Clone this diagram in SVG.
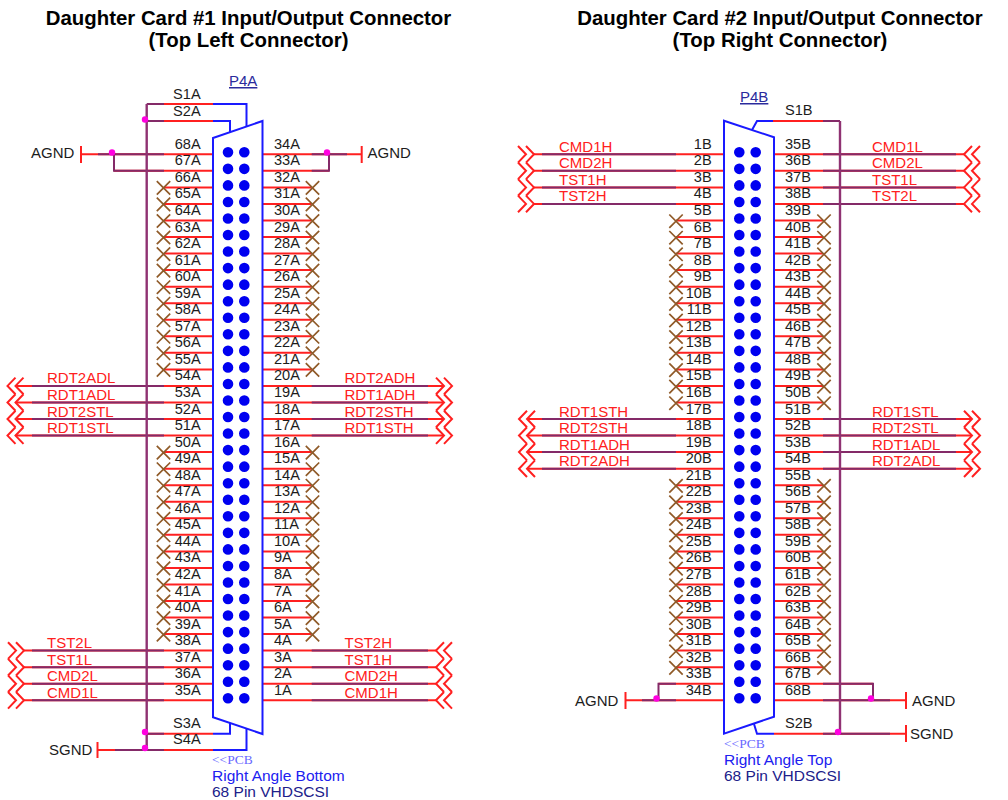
<svg xmlns="http://www.w3.org/2000/svg" width="1008" height="800" viewBox="0 0 1008 800">
<style>
text{font-family:"Liberation Sans",Arial,sans-serif;font-size:14.6px;fill:#1c1c1c}
#nets text{font-size:15px}
.t{font-weight:bold;font-size:20.4px;fill:#000;text-anchor:middle}
.e{text-anchor:end}
#nets .n{fill:#ff2020}
.r{fill:none;stroke:#ff2020;stroke-width:2}
.p{fill:none;stroke:#842a68;stroke-width:2}
.bus{fill:none;stroke:#8f3272;stroke-width:2.4}
.b{fill:none;stroke:#1a1aff;stroke-width:2}
.x{fill:none;stroke:#8f5a28;stroke-width:1.7}
.d{fill:none;stroke:#0000f0;stroke-width:10.6;stroke-linecap:round;stroke-dasharray:0 16.545}
.j{fill:#ff00e0}
.ref{fill:#2a2a9c;text-decoration:underline;font-size:15px}
.pcb{font-family:"Liberation Serif",serif;fill:#6a6aff;font-size:13.5px}
.ra{fill:#2020f0;font-size:15.5px}
.hd{fill:#20208a;font-size:15.5px}
</style>
<defs>
<path id="nc" class="x" d="M-6.7-6.7L6.7 6.7M6.7-6.7L-6.7 6.7"/>
<path id="cr" class="r" d="M-8-8.3L0 0L-8 8.3M-16-8.3L-8 0L-16 8.3"/>
<path id="cl" class="r" d="M8-8.3L0 0L8 8.3M16-8.3L8 0L16 8.3"/>
</defs>
<text class="t" x="248.5" y="25">Daughter Card #1 Input/Output Connector</text>
<text class="t" x="248.5" y="47">(Top Left Connector)</text>
<text class="t" x="780" y="25">Daughter Card #2 Input/Output Connector</text>
<text class="t" x="780" y="47">(Top Right Connector)</text>

<g id="connectors">
<g id="wires-a">
<path class="r" d="M164 104H213M146.7 121H213M81 154.3H213M114 170.8H213M164 187.4H213M164 203.9H213M164 220.5H213M164 237H213M164 253.6H213M164 270.1H213M164 286.7H213M164 303.2H213M164 319.8H213M164 336.3H213M164 352.8H213M164 369.4H213M15.5 385.9H213M15.5 402.5H213M15.5 419H213M15.5 435.6H213M164 452.1H213M164 468.7H213M164 485.2H213M164 501.7H213M164 518.3H213M164 534.8H213M164 551.4H213M164 567.9H213M164 584.5H213M164 601H213M164 617.6H213M164 634.1H213M24 650.6H213M24 667.2H213M24 683.7H213M24 700.3H213M146.7 733.7H213M97.5 750H213"/>
<path class="r" d="M262.5 154.3H361.7M262.5 170.8H329M262.5 187.4H311M262.5 203.9H311M262.5 220.5H311M262.5 237H311M262.5 253.6H311M262.5 270.1H311M262.5 286.7H311M262.5 303.2H311M262.5 319.8H311M262.5 336.3H311M262.5 352.8H311M262.5 369.4H311M262.5 385.9H444M262.5 402.5H444M262.5 419H444M262.5 435.6H444M262.5 452.1H311M262.5 468.7H311M262.5 485.2H311M262.5 501.7H311M262.5 518.3H311M262.5 534.8H311M262.5 551.4H311M262.5 567.9H311M262.5 584.5H311M262.5 601H311M262.5 617.6H311M262.5 634.1H311M262.5 650.6H436M262.5 667.2H436M262.5 683.7H436M262.5 700.3H436"/>
<path class="r" d="M81 146V163M361.7 146V163M97.5 742V758"/>
<path class="p" d="M146.7 104H164M146.7 121H164M98 154.3H164M114 154.3V170.8H164M32 385.9H164M32 402.5H164M32 419H164M32 435.6H164M32 650.6H164M32 667.2H164M32 683.7H164M32 700.3H164M146.7 733.7H164M115 750H164"/>
<path class="p" d="M311.7 154.3H347M329 154.3V170.8H311.7M311.7 385.9H428M311.7 402.5H428M311.7 419H428M311.7 435.6H428M311.7 650.6H428M311.7 667.2H428M311.7 683.7H428M311.7 700.3H428"/>
<path class="bus" d="M146.7 104V750"/>
<path class="b" d="M213 104H246.5V126M213 121H230V132M213 733.7H230V723M213 750H246.5V728"/>
<circle class="j" cx="145" cy="119.5" r="3.2"/><circle class="j" cx="112" cy="152.5" r="3.2"/><circle class="j" cx="327" cy="152.5" r="3.2"/><circle class="j" cx="145" cy="732" r="3.2"/><circle class="j" cx="145" cy="748" r="3.2"/>
</g>
<g id="wires-b">
<path class="r" d="M527 419H724M527 435.6H724M527 452.1H724M527 468.7H724M534 154.3H724M534 170.8H724M534 187.4H724M534 203.9H724M676 220.5H724M676 237H724M676 253.6H724M676 270.1H724M676 286.7H724M676 303.2H724M676 319.8H724M676 336.3H724M676 352.8H724M676 369.4H724M676 385.9H724M676 402.5H724M676 485.2H724M676 501.7H724M676 518.3H724M676 534.8H724M676 551.4H724M676 567.9H724M676 584.5H724M676 601H724M676 617.6H724M676 634.1H724M676 650.6H724M676 667.2H724M658.5 683.7H724M625.5 700.3H724"/>
<path class="r" d="M773 121H823M774 154.3H964M774 170.8H964M774 187.4H964M774 203.9H964M774 220.5H823M774 237H823M774 253.6H823M774 270.1H823M774 286.7H823M774 303.2H823M774 319.8H823M774 336.3H823M774 352.8H823M774 369.4H823M774 385.9H823M774 402.5H823M774 419H972M774 435.6H972M774 452.1H972M774 468.7H972M774 485.2H823M774 501.7H823M774 518.3H823M774 534.8H823M774 551.4H823M774 567.9H823M774 584.5H823M774 601H823M774 617.6H823M774 634.1H823M774 650.6H823M774 667.2H823M774 683.7H873M774 700.3H906M774 733.7H906"/>
<path class="r" d="M625.5 692V709M906 692V709M906 725V742"/>
<path class="p" d="M542 154.3H676M542 170.8H676M542 187.4H676M542 203.9H676M542 419H676M542 435.6H676M542 452.1H676M542 468.7H676M642 700.3H676M658.5 700.3V683.7H676"/>
<path class="p" d="M823 121H840M823 154.3H956M823 170.8H956M823 187.4H956M823 203.9H956M823 419H956M823 435.6H956M823 452.1H956M823 468.7H956M823 683.7H873V700.3M823 700.3H890M823 733.7H890"/>
<path class="bus" d="M840 121V733.7"/>
<path class="b" d="M773 121H757L752 130M774 733.7H757L754 724"/>
<circle class="j" cx="656.5" cy="698.5" r="3.2"/><circle class="j" cx="871" cy="698.5" r="3.2"/><circle class="j" cx="838" cy="732" r="3.2"/>
</g>
<g id="offpage">
<use href="#cl" x="7.5" y="385.9"/><use href="#cl" x="7.5" y="402.5"/><use href="#cl" x="7.5" y="419"/><use href="#cl" x="7.5" y="435.6"/>
<use href="#cr" x="24" y="650.6"/><use href="#cr" x="24" y="667.2"/><use href="#cr" x="24" y="683.7"/><use href="#cr" x="24" y="700.3"/>
<use href="#cr" x="452" y="385.9"/><use href="#cr" x="452" y="402.5"/><use href="#cr" x="452" y="419"/><use href="#cr" x="452" y="435.6"/>
<use href="#cl" x="436" y="650.6"/><use href="#cl" x="436" y="667.2"/><use href="#cl" x="436" y="683.7"/><use href="#cl" x="436" y="700.3"/>
<use href="#cr" x="534" y="154.3"/><use href="#cr" x="534" y="170.8"/><use href="#cr" x="534" y="187.4"/><use href="#cr" x="534" y="203.9"/>
<use href="#cl" x="519" y="419"/><use href="#cl" x="519" y="435.6"/><use href="#cl" x="519" y="452.1"/><use href="#cl" x="519" y="468.7"/>
<use href="#cl" x="964" y="154.3"/><use href="#cl" x="964" y="170.8"/><use href="#cl" x="964" y="187.4"/><use href="#cl" x="964" y="203.9"/>
<use href="#cr" x="980" y="419"/><use href="#cr" x="980" y="435.6"/><use href="#cr" x="980" y="452.1"/><use href="#cr" x="980" y="468.7"/>
</g>
<g id="no-connects">
<use href="#nc" x="163.5" y="187.9"/><use href="#nc" x="163.5" y="204.4"/><use href="#nc" x="163.5" y="221"/><use href="#nc" x="163.5" y="237.5"/><use href="#nc" x="163.5" y="254.1"/><use href="#nc" x="163.5" y="270.6"/><use href="#nc" x="163.5" y="287.2"/><use href="#nc" x="163.5" y="303.7"/><use href="#nc" x="163.5" y="320.3"/><use href="#nc" x="163.5" y="336.8"/><use href="#nc" x="163.5" y="353.3"/><use href="#nc" x="163.5" y="369.9"/>
<use href="#nc" x="163.5" y="452.6"/><use href="#nc" x="163.5" y="469.2"/><use href="#nc" x="163.5" y="485.7"/><use href="#nc" x="163.5" y="502.2"/><use href="#nc" x="163.5" y="518.8"/><use href="#nc" x="163.5" y="535.3"/><use href="#nc" x="163.5" y="551.9"/><use href="#nc" x="163.5" y="568.4"/><use href="#nc" x="163.5" y="585"/><use href="#nc" x="163.5" y="601.5"/><use href="#nc" x="163.5" y="618.1"/><use href="#nc" x="163.5" y="634.6"/>
<use href="#nc" x="312.5" y="187.9"/><use href="#nc" x="312.5" y="204.4"/><use href="#nc" x="312.5" y="221"/><use href="#nc" x="312.5" y="237.5"/><use href="#nc" x="312.5" y="254.1"/><use href="#nc" x="312.5" y="270.6"/><use href="#nc" x="312.5" y="287.2"/><use href="#nc" x="312.5" y="303.7"/><use href="#nc" x="312.5" y="320.3"/><use href="#nc" x="312.5" y="336.8"/><use href="#nc" x="312.5" y="353.3"/><use href="#nc" x="312.5" y="369.9"/>
<use href="#nc" x="312.5" y="452.6"/><use href="#nc" x="312.5" y="469.2"/><use href="#nc" x="312.5" y="485.7"/><use href="#nc" x="312.5" y="502.2"/><use href="#nc" x="312.5" y="518.8"/><use href="#nc" x="312.5" y="535.3"/><use href="#nc" x="312.5" y="551.9"/><use href="#nc" x="312.5" y="568.4"/><use href="#nc" x="312.5" y="585"/><use href="#nc" x="312.5" y="601.5"/><use href="#nc" x="312.5" y="618.1"/><use href="#nc" x="312.5" y="634.6"/>
<use href="#nc" x="676" y="221.2"/><use href="#nc" x="676" y="237.7"/><use href="#nc" x="676" y="254.3"/><use href="#nc" x="676" y="270.8"/><use href="#nc" x="676" y="287.4"/><use href="#nc" x="676" y="303.9"/><use href="#nc" x="676" y="320.5"/><use href="#nc" x="676" y="337"/><use href="#nc" x="676" y="353.5"/><use href="#nc" x="676" y="370.1"/><use href="#nc" x="676" y="386.6"/><use href="#nc" x="676" y="403.2"/>
<use href="#nc" x="676" y="485.9"/><use href="#nc" x="676" y="502.4"/><use href="#nc" x="676" y="519"/><use href="#nc" x="676" y="535.5"/><use href="#nc" x="676" y="552.1"/><use href="#nc" x="676" y="568.6"/><use href="#nc" x="676" y="585.2"/><use href="#nc" x="676" y="601.7"/><use href="#nc" x="676" y="618.3"/><use href="#nc" x="676" y="634.8"/><use href="#nc" x="676" y="651.3"/><use href="#nc" x="676" y="667.9"/>
<use href="#nc" x="824" y="221.2"/><use href="#nc" x="824" y="237.7"/><use href="#nc" x="824" y="254.3"/><use href="#nc" x="824" y="270.8"/><use href="#nc" x="824" y="287.4"/><use href="#nc" x="824" y="303.9"/><use href="#nc" x="824" y="320.5"/><use href="#nc" x="824" y="337"/><use href="#nc" x="824" y="353.5"/><use href="#nc" x="824" y="370.1"/><use href="#nc" x="824" y="386.6"/><use href="#nc" x="824" y="403.2"/>
<use href="#nc" x="824" y="485.9"/><use href="#nc" x="824" y="502.4"/><use href="#nc" x="824" y="519"/><use href="#nc" x="824" y="535.5"/><use href="#nc" x="824" y="552.1"/><use href="#nc" x="824" y="568.6"/><use href="#nc" x="824" y="585.2"/><use href="#nc" x="824" y="601.7"/><use href="#nc" x="824" y="618.3"/><use href="#nc" x="824" y="634.8"/><use href="#nc" x="824" y="651.3"/><use href="#nc" x="824" y="667.9"/>
</g>
</g>

<g id="P4A">
<path class="b" d="M213 138L262.5 121V734L213 717.3Z"/>
<path class="d" d="M228 152.3V699"/><path class="d" d="M244.3 152.3V699"/>
<text class="ref" x="229" y="86">P4A</text>
<text class="e" x="200.7" y="99">S1A</text><text class="e" x="200.7" y="116">S2A</text><text class="e" x="200.7" y="727.7">S3A</text><text class="e" x="200.7" y="744.2">S4A</text>
<g>
<text class="e" x="200.7" y="148.8">68A</text><text class="e" x="200.7" y="165.3">67A</text><text class="e" x="200.7" y="181.9">66A</text><text class="e" x="200.7" y="198.4">65A</text><text class="e" x="200.7" y="215">64A</text><text class="e" x="200.7" y="231.5">63A</text><text class="e" x="200.7" y="248.1">62A</text><text class="e" x="200.7" y="264.6">61A</text><text class="e" x="200.7" y="281.2">60A</text><text class="e" x="200.7" y="297.7">59A</text><text class="e" x="200.7" y="314.3">58A</text><text class="e" x="200.7" y="330.8">57A</text><text class="e" x="200.7" y="347.3">56A</text><text class="e" x="200.7" y="363.9">55A</text><text class="e" x="200.7" y="380.4">54A</text><text class="e" x="200.7" y="397">53A</text><text class="e" x="200.7" y="413.5">52A</text><text class="e" x="200.7" y="430.1">51A</text><text class="e" x="200.7" y="446.6">50A</text><text class="e" x="200.7" y="463.2">49A</text><text class="e" x="200.7" y="479.7">48A</text><text class="e" x="200.7" y="496.2">47A</text><text class="e" x="200.7" y="512.8">46A</text><text class="e" x="200.7" y="529.3">45A</text><text class="e" x="200.7" y="545.9">44A</text><text class="e" x="200.7" y="562.4">43A</text><text class="e" x="200.7" y="579">42A</text><text class="e" x="200.7" y="595.5">41A</text><text class="e" x="200.7" y="612.1">40A</text><text class="e" x="200.7" y="628.6">39A</text><text class="e" x="200.7" y="645.1">38A</text><text class="e" x="200.7" y="661.7">37A</text><text class="e" x="200.7" y="678.2">36A</text><text class="e" x="200.7" y="694.8">35A</text>
</g>
<g>
<text x="274" y="148.8">34A</text><text x="274" y="165.3">33A</text><text x="274" y="181.9">32A</text><text x="274" y="198.4">31A</text><text x="274" y="215">30A</text><text x="274" y="231.5">29A</text><text x="274" y="248.1">28A</text><text x="274" y="264.6">27A</text><text x="274" y="281.2">26A</text><text x="274" y="297.7">25A</text><text x="274" y="314.3">24A</text><text x="274" y="330.8">23A</text><text x="274" y="347.3">22A</text><text x="274" y="363.9">21A</text><text x="274" y="380.4">20A</text><text x="274" y="397">19A</text><text x="274" y="413.5">18A</text><text x="274" y="430.1">17A</text><text x="274" y="446.6">16A</text><text x="274" y="463.2">15A</text><text x="274" y="479.7">14A</text><text x="274" y="496.2">13A</text><text x="274" y="512.8">12A</text><text x="274" y="529.3">11A</text><text x="274" y="545.9">10A</text><text x="274" y="562.4">9A</text><text x="274" y="579">8A</text><text x="274" y="595.5">7A</text><text x="274" y="612.1">6A</text><text x="274" y="628.6">5A</text><text x="274" y="645.1">4A</text><text x="274" y="661.7">3A</text><text x="274" y="678.2">2A</text><text x="274" y="694.8">1A</text>
</g>
<text class="pcb" x="212" y="764">&lt;&lt;PCB</text>
<text class="ra" x="212" y="780.7">Right Angle Bottom</text>
<text class="hd" x="212" y="797">68 Pin VHDSCSI</text>
</g>

<g id="P4B">
<path class="b" d="M724 120.7L774 137.3V716.7L724 733.7Z"/>
<path class="d" d="M739.3 152.3V699"/><path class="d" d="M755.7 152.3V699"/>
<text class="ref" x="740" y="102">P4B</text>
<text x="785" y="115">S1B</text><text x="785" y="727.5">S2B</text>
<g>
<text class="e" x="711.7" y="148.8">1B</text><text class="e" x="711.7" y="165.3">2B</text><text class="e" x="711.7" y="181.9">3B</text><text class="e" x="711.7" y="198.4">4B</text><text class="e" x="711.7" y="215">5B</text><text class="e" x="711.7" y="231.5">6B</text><text class="e" x="711.7" y="248.1">7B</text><text class="e" x="711.7" y="264.6">8B</text><text class="e" x="711.7" y="281.2">9B</text><text class="e" x="711.7" y="297.7">10B</text><text class="e" x="711.7" y="314.3">11B</text><text class="e" x="711.7" y="330.8">12B</text><text class="e" x="711.7" y="347.3">13B</text><text class="e" x="711.7" y="363.9">14B</text><text class="e" x="711.7" y="380.4">15B</text><text class="e" x="711.7" y="397">16B</text><text class="e" x="711.7" y="413.5">17B</text><text class="e" x="711.7" y="430.1">18B</text><text class="e" x="711.7" y="446.6">19B</text><text class="e" x="711.7" y="463.2">20B</text><text class="e" x="711.7" y="479.7">21B</text><text class="e" x="711.7" y="496.2">22B</text><text class="e" x="711.7" y="512.8">23B</text><text class="e" x="711.7" y="529.3">24B</text><text class="e" x="711.7" y="545.9">25B</text><text class="e" x="711.7" y="562.4">26B</text><text class="e" x="711.7" y="579">27B</text><text class="e" x="711.7" y="595.5">28B</text><text class="e" x="711.7" y="612.1">29B</text><text class="e" x="711.7" y="628.6">30B</text><text class="e" x="711.7" y="645.1">31B</text><text class="e" x="711.7" y="661.7">32B</text><text class="e" x="711.7" y="678.2">33B</text><text class="e" x="711.7" y="694.8">34B</text>
</g>
<g>
<text x="785" y="148.8">35B</text><text x="785" y="165.3">36B</text><text x="785" y="181.9">37B</text><text x="785" y="198.4">38B</text><text x="785" y="215">39B</text><text x="785" y="231.5">40B</text><text x="785" y="248.1">41B</text><text x="785" y="264.6">42B</text><text x="785" y="281.2">43B</text><text x="785" y="297.7">44B</text><text x="785" y="314.3">45B</text><text x="785" y="330.8">46B</text><text x="785" y="347.3">47B</text><text x="785" y="363.9">48B</text><text x="785" y="380.4">49B</text><text x="785" y="397">50B</text><text x="785" y="413.5">51B</text><text x="785" y="430.1">52B</text><text x="785" y="446.6">53B</text><text x="785" y="463.2">54B</text><text x="785" y="479.7">55B</text><text x="785" y="496.2">56B</text><text x="785" y="512.8">57B</text><text x="785" y="529.3">58B</text><text x="785" y="545.9">59B</text><text x="785" y="562.4">60B</text><text x="785" y="579">61B</text><text x="785" y="595.5">62B</text><text x="785" y="612.1">63B</text><text x="785" y="628.6">64B</text><text x="785" y="645.1">65B</text><text x="785" y="661.7">66B</text><text x="785" y="678.2">67B</text><text x="785" y="694.8">68B</text>
</g>
<text class="pcb" x="724" y="748">&lt;&lt;PCB</text>
<text class="ra" x="724" y="764.5">Right Angle Top</text>
<text class="hd" x="724" y="780.7">68 Pin VHDSCSI</text>
</g>

<g id="nets">
<text x="31" y="158">AGND</text><text x="367.5" y="158">AGND</text><text x="49" y="755">SGND</text>
<text x="575" y="706">AGND</text><text x="912" y="706">AGND</text><text x="910" y="739">SGND</text>
<text class="n" x="47" y="383.4">RDT2ADL</text><text class="n" x="47" y="400">RDT1ADL</text><text class="n" x="47" y="416.5">RDT2STL</text><text class="n" x="47" y="433.1">RDT1STL</text>
<text class="n" x="47" y="648.1">TST2L</text><text class="n" x="47" y="664.7">TST1L</text><text class="n" x="47" y="681.2">CMD2L</text><text class="n" x="47" y="697.8">CMD1L</text>
<text class="n" x="344.5" y="383.4">RDT2ADH</text><text class="n" x="344.5" y="400">RDT1ADH</text><text class="n" x="344.5" y="416.5">RDT2STH</text><text class="n" x="344.5" y="433.1">RDT1STH</text>
<text class="n" x="344.5" y="648.1">TST2H</text><text class="n" x="344.5" y="664.7">TST1H</text><text class="n" x="344.5" y="681.2">CMD2H</text><text class="n" x="344.5" y="697.8">CMD1H</text>
<text class="n" x="559" y="151.8">CMD1H</text><text class="n" x="559" y="168.3">CMD2H</text><text class="n" x="559" y="184.9">TST1H</text><text class="n" x="559" y="201.4">TST2H</text>
<text class="n" x="559" y="416.5">RDT1STH</text><text class="n" x="559" y="433.1">RDT2STH</text><text class="n" x="559" y="449.6">RDT1ADH</text><text class="n" x="559" y="466.2">RDT2ADH</text>
<text class="n" x="872" y="151.8">CMD1L</text><text class="n" x="872" y="168.3">CMD2L</text><text class="n" x="872" y="184.9">TST1L</text><text class="n" x="872" y="201.4">TST2L</text>
<text class="n" x="872" y="416.5">RDT1STL</text><text class="n" x="872" y="433.1">RDT2STL</text><text class="n" x="872" y="449.6">RDT1ADL</text><text class="n" x="872" y="466.2">RDT2ADL</text>
</g>
</svg>
